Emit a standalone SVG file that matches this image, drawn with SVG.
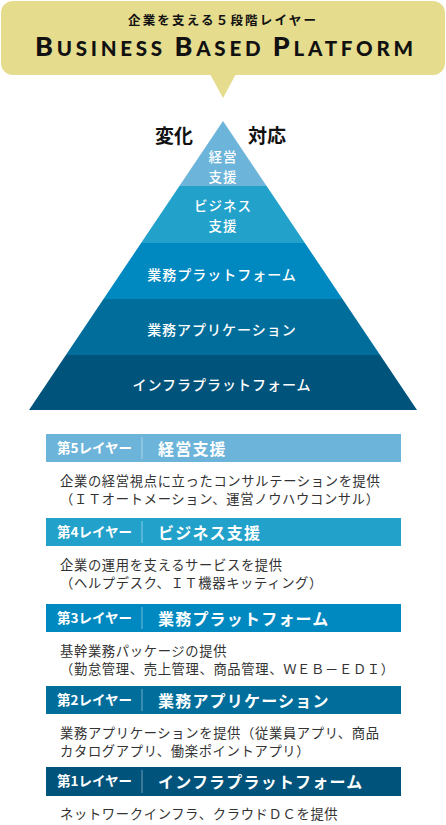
<svg xmlns="http://www.w3.org/2000/svg" width="446" height="825" viewBox="0 0 446 825">
<style>
.jp{font-family:"Noto Sans CJK JP","Noto Sans",sans-serif}
.pl{fill:#fff;font-size:14px;font-weight:500;text-anchor:middle}
.ps{font-size:13.5px}
.hl{fill:#fff;font-size:13.5px;font-weight:700}
.ht{fill:#fff;font-size:16px;font-weight:700}
.bd{fill:#333;font-size:13.3px;letter-spacing:0.65px}
.dv{stroke:#fff;stroke-opacity:0.45;stroke-width:1}
.c1{fill:#6cb4d9}.c2{fill:#22a1ca}.c3{fill:#0089c0}.c4{fill:#006d9b}.c5{fill:#00537a}
</style>
<rect width="446" height="825" fill="#fff"/>
<g id="title">
<rect x="1" y="1" width="444" height="74" rx="12" fill="#e5dc8e"/>
<polygon points="210,74 236,74 223,98" fill="#e5dc8e"/>
<text class="jp" x="128" y="25" font-size="12.5" font-weight="700" fill="#111" textLength="188" lengthAdjust="spacing">企業を支える５段階レイヤー</text>
<text x="35" y="56" font-family="Lato,'Liberation Sans',sans-serif" font-weight="900" fill="#111" textLength="378" lengthAdjust="spacing"><tspan font-size="27">B</tspan><tspan font-size="20.5">USINESS </tspan><tspan font-size="27">B</tspan><tspan font-size="20.5">ASED </tspan><tspan font-size="27">P</tspan><tspan font-size="20.5">LATFORM</tspan></text>
</g>
<g id="pyramid">
<polygon class="c1" points="223,121 266.6,186 179.4,186"/>
<polygon class="c2" points="179.4,186 266.6,186 304.9,243 141.1,243"/>
<polygon class="c3" points="141.1,243 304.9,243 342.5,299 103.5,299"/>
<polygon class="c4" points="103.5,299 342.5,299 380.1,355 65.9,355"/>
<polygon class="c5" points="65.9,355 380.1,355 417,410 29,410"/>
<text class="jp" x="155" y="143" font-size="19" font-weight="700" fill="#111">変化</text>
<text class="jp" x="248" y="143" font-size="19" font-weight="700" fill="#111">対応</text>
<text class="jp pl ps" x="223" y="162" letter-spacing="1">経営</text>
<text class="jp pl ps" x="223" y="182" letter-spacing="1">支援</text>
<text class="jp pl ps" x="223" y="211" letter-spacing="1">ビジネス</text>
<text class="jp pl ps" x="223" y="231" letter-spacing="1">支援</text>
<text class="jp pl" x="222" y="280" letter-spacing="1">業務プラットフォーム</text>
<text class="jp pl" x="222" y="335" letter-spacing="1">業務アプリケーション</text>
<text class="jp pl" x="222" y="390" letter-spacing="1">インフラプラットフォーム</text>
</g>
<g id="layer5">
<rect class="c1" x="46" y="434" width="355" height="28"/>
<line class="dv" x1="142" y1="437" x2="142" y2="459"/>
<text class="jp hl" x="57" y="453">第5レイヤー</text>
<text class="jp ht" x="158" y="455" letter-spacing="1.2">経営支援</text>
<text class="jp bd" x="60" y="486">企業の経営視点に立ったコンサルテーションを提供</text>
<text class="jp bd" x="60" y="504">（ＩＴオートメーション、運営ノウハウコンサル）</text>
</g>
<g id="layer4">
<rect class="c2" x="46" y="518" width="355" height="28"/>
<line class="dv" x1="142" y1="521" x2="142" y2="543"/>
<text class="jp hl" x="57" y="537">第4レイヤー</text>
<text class="jp ht" x="158" y="539" letter-spacing="1.2">ビジネス支援</text>
<text class="jp bd" x="60" y="570">企業の運用を支えるサービスを提供</text>
<text class="jp bd" x="60" y="588">（ヘルプデスク、ＩＴ機器キッティング）</text>
</g>
<g id="layer3">
<rect class="c3" x="46" y="604" width="355" height="28"/>
<line class="dv" x1="142" y1="607" x2="142" y2="629"/>
<text class="jp hl" x="57" y="623">第3レイヤー</text>
<text class="jp ht" x="158" y="625" letter-spacing="1.2">業務プラットフォーム</text>
<text class="jp bd" x="60" y="656">基幹業務パッケージの提供</text>
<text class="jp bd" x="60" y="674">（勤怠管理、売上管理、商品管理、ＷＥＢ－ＥＤＩ）</text>
</g>
<g id="layer2">
<rect class="c4" x="46" y="686" width="355" height="28"/>
<line class="dv" x1="142" y1="689" x2="142" y2="711"/>
<text class="jp hl" x="57" y="705">第2レイヤー</text>
<text class="jp ht" x="158" y="707" letter-spacing="1.2">業務アプリケーション</text>
<text class="jp bd" x="60" y="738">業務アプリケーションを提供（従業員アプリ、商品</text>
<text class="jp bd" x="60" y="756">カタログアプリ、働楽ポイントアプリ）</text>
</g>
<g id="layer1">
<rect class="c5" x="46" y="767" width="355" height="29"/>
<line class="dv" x1="142" y1="770" x2="142" y2="793"/>
<text class="jp hl" x="57" y="786">第1レイヤー</text>
<text class="jp ht" x="158" y="788" letter-spacing="1.2">インフラプラットフォーム</text>
<text class="jp bd" x="60" y="819">ネットワークインフラ、クラウドＤＣを提供</text>
</g>
</svg>
